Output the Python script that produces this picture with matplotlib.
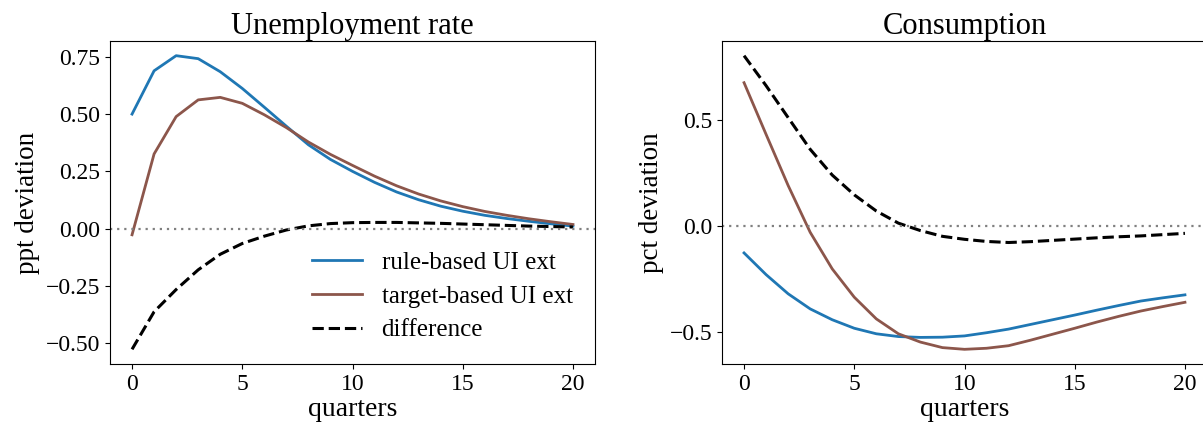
import numpy as np
import matplotlib
matplotlib.use("Agg")
import matplotlib.pyplot as plt

# Impulse responses over 20 quarters
quarters = np.arange(21)

# Unemployment rate (ppt deviation)
ur_rule = [0.500, 0.689, 0.755, 0.742, 0.685, 0.612, 0.530, 0.447, 0.366, 0.302,
           0.250, 0.202, 0.160, 0.126, 0.098, 0.076, 0.058, 0.044, 0.032, 0.021, 0.011]
ur_target = [-0.027, 0.326, 0.489, 0.562, 0.573, 0.547, 0.497, 0.441, 0.378, 0.324,
             0.276, 0.229, 0.187, 0.151, 0.121, 0.096, 0.075, 0.058, 0.043, 0.030, 0.018]

# Consumption (pct deviation)
c_rule = [-0.127, -0.229, -0.319, -0.390, -0.441, -0.481, -0.507, -0.520, -0.524, -0.523,
          -0.517, -0.502, -0.485, -0.463, -0.441, -0.419, -0.396, -0.374, -0.353, -0.338, -0.324]
c_target = [0.673, 0.430, 0.190, -0.030, -0.202, -0.335, -0.437, -0.507, -0.546, -0.572,
            -0.580, -0.575, -0.563, -0.537, -0.509, -0.481, -0.452, -0.425, -0.400, -0.379, -0.359]

titles = ["Unemployment rate", "Consumption"]
ylabels = ["ppt deviation", "pct deviation"]
series_labels = ["rule-based UI ext", "target-based UI ext", "difference"]

plt.rcParams["font.family"] = ["Liberation Serif", "DejaVu Serif"]
plt.rcParams["font.size"] = 17

fig = plt.figure(figsize=(12.03, 4.30), dpi=100)
W, H = 1203.0, 430.0
ax1 = fig.add_axes([110 / W, (H - 364) / H, 485 / W, 323 / H])
ax2 = fig.add_axes([722 / W, (H - 364) / H, 485 / W, 323 / H])

panels = [(ax1, ur_rule, ur_target), (ax2, c_rule, c_target)]
for (ax, rule, target), title, ylab in zip(panels, titles, ylabels):
    rule = np.asarray(rule)
    target = np.asarray(target)
    diff = target - rule
    ax.plot(quarters, rule, color="tab:blue", lw=2.0, label=series_labels[0])
    ax.plot(quarters, target, color="tab:brown", lw=2.0, label=series_labels[1])
    ax.plot(quarters, diff, color="black", lw=2.2, ls="--", label=series_labels[2])
    ax.axhline(0, color="grey", lw=1.6, ls=(0, (1, 2.2)))
    ax.set_title(title, fontsize=22, pad=5)
    ax.set_xlabel("quarters", fontsize=20, labelpad=2)
    ax.set_ylabel(ylab, fontsize=19.5)
    ax.set_xticks([0, 5, 10, 15, 20])
    ax.tick_params(labelsize=17)

ax2.set_yticks([-0.5, 0.0, 0.5])
ax1.set_yticks([-0.5, -0.25, 0.0, 0.25, 0.5, 0.75])
ax1.legend(loc="lower right", frameon=False, handlelength=2.0, fontsize=18,
           labelspacing=0.45)

fig.savefig("out.png", dpi=100)
